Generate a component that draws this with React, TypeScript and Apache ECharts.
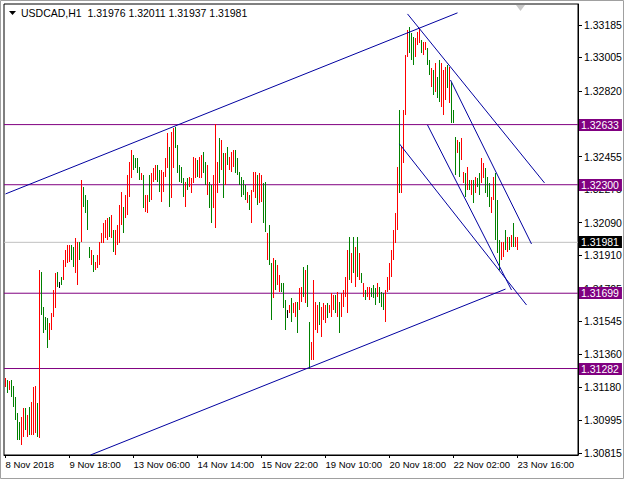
import React, { useEffect, useRef } from "react";
import * as echarts from "echarts";

const FONT = '"Liberation Sans", Arial, sans-serif';

const symbolName = "USDCAD,H1";
const lastOHLC = [1.31976, 1.32011, 1.31937, 1.31981];

// hourly bars, index 0 = first bar on the chart
const highs = [
  1.31229, 1.31218, 1.31213, 1.31218, 1.31185, 1.31124, 1.31036, 1.30986, 1.31013, 1.31063,
  1.31063, 1.31024, 1.31069, 1.31096, 1.3118, 1.31185, 1.31091, 1.31828, 1.31817, 1.31623,
  1.31567, 1.31562, 1.31534, 1.3159, 1.31717, 1.31811, 1.31817, 1.31761, 1.31789, 1.31883,
  1.31939, 1.31966, 1.31966, 1.31966, 1.31955, 1.32005, 1.31983, 1.31983, 1.32326, 1.32288,
  1.32243, 1.32216, 1.31955, 1.31939, 1.31911, 1.31872, 1.31911, 1.31983, 1.32033, 1.32088,
  1.32105, 1.32116, 1.32121, 1.32132, 1.32049, 1.32049, 1.32077, 1.32188, 1.3226, 1.32177,
  1.32243, 1.32354, 1.32426, 1.32493, 1.32465, 1.32448, 1.32448, 1.32398, 1.32365, 1.32354,
  1.32243, 1.32243, 1.32354, 1.32365, 1.32393, 1.32409, 1.32409, 1.32382, 1.32382, 1.32371,
  1.32448, 1.32587, 1.32509, 1.32592, 1.32614, 1.3262, 1.3252, 1.32409, 1.32398, 1.32337,
  1.32315, 1.32337, 1.32343, 1.32337, 1.32454, 1.32448, 1.32437, 1.32454, 1.32465, 1.32481,
  1.32426, 1.32409, 1.32315, 1.32299, 1.32354, 1.32634, 1.32426, 1.32559, 1.32548, 1.32476,
  1.32476, 1.32509, 1.32454, 1.32481, 1.32493, 1.32493, 1.32448, 1.32371, 1.32343, 1.32326,
  1.32299, 1.3226, 1.32243, 1.32271, 1.32371, 1.32371, 1.32354, 1.32365, 1.32354, 1.3231,
  1.32315, 1.32033, 1.32077, 1.31867, 1.31894, 1.31883, 1.31855, 1.318, 1.31756, 1.31756,
  1.31662, 1.31606, 1.31634, 1.31673, 1.31645, 1.3165, 1.3165, 1.31728, 1.31734, 1.31844,
  1.31828, 1.31855, 1.3154, 1.31429, 1.31772, 1.3165, 1.31634, 1.3165, 1.31623, 1.31645,
  1.31634, 1.31645, 1.31634, 1.317, 1.31689, 1.31689, 1.31706, 1.3165, 1.317, 1.31717,
  1.31789, 1.31939, 1.32011, 1.31922, 1.32011, 1.31955, 1.32011, 1.31922, 1.31811, 1.31756,
  1.31717, 1.31734, 1.31734, 1.31728, 1.31745, 1.31728, 1.31756, 1.31734, 1.31706, 1.317,
  1.31717, 1.31789, 1.31867, 1.31939, 1.32049, 1.32144, 1.32398, 1.32714, 1.32509, 1.32714,
  1.33019, 1.33157, 1.33174, 1.33141, 1.33119, 1.33113, 1.33146, 1.33168, 1.33102, 1.33091,
  1.33091, 1.33058, 1.32991, 1.32947, 1.32936, 1.32975, 1.32897, 1.32991, 1.32975, 1.32936,
  1.32952, 1.32963, 1.32952, 1.32869, 1.32714, 1.32565, 1.32548, 1.32537, 1.32559, 1.32371,
  1.32365, 1.32398, 1.32326, 1.32326, 1.32326, 1.32343, 1.32337, 1.32365, 1.32448, 1.32421,
  1.32393, 1.32343, 1.3231, 1.32232, 1.32343, 1.32365, 1.32216, 1.31994, 1.31983, 1.31983,
  1.32049, 1.32011, 1.32011, 1.32022, 1.32088, 1.32011, 1.32011,
];

const lows = [
  1.3118, 1.31146, 1.31163, 1.31124, 1.31069, 1.30997, 1.30886, 1.30886, 1.30858, 1.30903,
  1.30941, 1.30903, 1.30914, 1.30914, 1.30914, 1.30925, 1.30903, 1.30897, 1.31578, 1.31479,
  1.31495, 1.31396, 1.3144, 1.31495, 1.31567, 1.31617, 1.31734, 1.31728, 1.31745, 1.31772,
  1.31844, 1.31867, 1.31872, 1.31883, 1.31844, 1.31811, 1.31745, 1.31883, 1.31983, 1.32177,
  1.32144, 1.32049, 1.31894, 1.31855, 1.31817, 1.31828, 1.31839, 1.31855, 1.31977, 1.31977,
  1.32005, 1.31994, 1.32011, 1.32005, 1.31927, 1.31911, 1.31966, 1.31977, 1.32077, 1.32033,
  1.32116, 1.32132, 1.32232, 1.32337, 1.32382, 1.32393, 1.32365, 1.32326, 1.32326, 1.32171,
  1.32149, 1.32144, 1.32204, 1.32216, 1.32315, 1.32326, 1.32315, 1.3226, 1.32204, 1.3226,
  1.32343, 1.32393, 1.32177, 1.32227, 1.32393, 1.32504, 1.32365, 1.32315, 1.3231, 1.32232,
  1.32177, 1.32271, 1.32288, 1.32254, 1.3231, 1.32337, 1.32343, 1.32337, 1.32337, 1.32365,
  1.32299, 1.32243, 1.32171, 1.32088, 1.32171, 1.3206, 1.32254, 1.3231, 1.32382, 1.32227,
  1.32299, 1.32409, 1.32382, 1.32371, 1.32398, 1.32365, 1.32354, 1.32299, 1.32232, 1.32243,
  1.32216, 1.32199, 1.3216, 1.32088, 1.3226, 1.32227, 1.32188, 1.32199, 1.32204, 1.32088,
  1.32038, 1.31883, 1.31855, 1.31551, 1.31673, 1.31717, 1.31745, 1.31706, 1.31706, 1.31617,
  1.31495, 1.31562, 1.3159, 1.3154, 1.3159, 1.31567, 1.31479, 1.31606, 1.3165, 1.31678,
  1.31645, 1.31623, 1.31282, 1.31329, 1.31329, 1.31495, 1.31479, 1.31523, 1.31457, 1.31551,
  1.31534, 1.31562, 1.3159, 1.31567, 1.31606, 1.3159, 1.31567, 1.31479, 1.31567, 1.31623,
  1.31678, 1.3159, 1.31772, 1.31756, 1.31811, 1.31734, 1.31789, 1.31772, 1.31756, 1.31678,
  1.31662, 1.31678, 1.31662, 1.31678, 1.31673, 1.31634, 1.31678, 1.31645, 1.31623, 1.31606,
  1.3154, 1.31706, 1.31717, 1.31789, 1.31883, 1.31977, 1.32049, 1.32254, 1.32254, 1.32421,
  1.32686, 1.33008, 1.3303, 1.32991, 1.32963, 1.33008, 1.33074, 1.33085, 1.3303, 1.33019,
  1.33047, 1.32963, 1.32908, 1.32842, 1.32797, 1.32814, 1.32781, 1.32758, 1.32731, 1.32686,
  1.3277, 1.32836, 1.32753, 1.32642, 1.32642, 1.32354, 1.32476, 1.32343, 1.32437, 1.3231,
  1.32232, 1.32271, 1.32271, 1.32243, 1.32199, 1.32254, 1.32288, 1.32243, 1.3231, 1.32337,
  1.32254, 1.32232, 1.32177, 1.32144, 1.32216, 1.31994, 1.31922, 1.31828, 1.31883, 1.319,
  1.31939, 1.31927, 1.31939, 1.31955, 1.31955, 1.31955, 1.31937,
];

// R = bullish bar, G = bearish bar, K = unchanged
const directions =
  "RGRGGGGGRR" + "GRGRRRGRGG" + "GGRRRRGKGR" + "RRRGGRRGRG" + "GGGRGRRRRR" +
  "RRGRGRRRRG" + "RRRRGGGGRG" + "RRGRRRGGRR" + "RRGRRGGGGG" + "RGRRRRGRRG" +
  "GRGGRRRGRG" + "RGRRRGGGGG" + "GRGRRRGRRG" + "GRGGRGRRGG" + "GKRGRRGRRG" +
  "RGGRRRRGRR" + "RGRRRGRGRR" + "RRGRGRGRGR" + "GRRGGGRGGG" + "RRRRRRRGRR" +
  "RRGGGRRRGR" + "RGGRGRGGRR" + "RGRGGGRGRR" + "GRGRGRGGRR" + "GGGRRGGGRR" +
  "GRGRGRR";

const timeTickIndex = [0, 32, 64, 96, 128, 160, 192, 224, 256];
const timeLabels = [
  "8 Nov 2018", "9 Nov 18:00", "13 Nov 06:00", "14 Nov 14:00", "15 Nov 22:00",
  "19 Nov 10:00", "20 Nov 18:00", "22 Nov 02:00", "23 Nov 16:00",
];
const priceTicks = [
  1.33185, 1.33005, 1.3282, 1.3264, 1.32455, 1.32275, 1.3209, 1.3191, 1.31725,
  1.31545, 1.3136, 1.3118, 1.30995, 1.30815,
];
// tick 1.32640 lies fully under the 1.32633 box, so no label is printed for it
const priceLabels = [
  1.33185, 1.33005, 1.3282, 1.32455, 1.32275, 1.3209, 1.3191, 1.31725,
  1.31545, 1.3136, 1.3118, 1.30995, 1.30815,
];
const levels = [1.32633, 1.323, 1.31699, 1.31282];
const bidPrice = 1.31981;
const priceMin = 1.30803;
const priceMax = 1.33301;
const barIndexMin = -0.75;
const barIndexMax = 286.25;

// trend lines: [startIndex, startPrice], [endIndex, endPrice]
const trendLines = [
  [[0, 1.32249], [226, 1.33252]],
  [[42.5, 1.30803], [250, 1.31722]],
  [[201, 1.33246], [269.5, 1.3231]],
  [[222.5, 1.3288], [263, 1.31972]],
  [[211, 1.32631], [253, 1.31717]],
  [[197, 1.32526], [260.5, 1.31634]],
];

const UP = "#FF0000";
const DOWN = "#008000";
const FLAT = "#000000";
const PURPLE = "#800080";
const BID = "#C0C0C0";
const TREND = "#0000A0";

export default function App() {
  const ref = useRef<HTMLDivElement>(null);
  useEffect(() => {
    document.body.style.margin = "0";
    if (!ref.current) return;
    const chart = echarts.init(ref.current, null, { renderer: "svg" });

    // one custom series per bar colour; each bar is a 1px high-low line
    const groupData = (code: string) =>
      highs.map((h, i) => [i, h, lows[i]]).filter((_, i) => directions[i] === code);

    const barSeries = (code: string, color: string) => ({
      type: "custom",
      name: "bars-" + code,
      clip: true,
      silent: true,
      z: 3,
      data: groupData(code),
      encode: { x: 0, y: [1, 2] },
      itemStyle: { color },
      renderItem: (params: any, api: any) => {
        const i = api.value(0);
        const top = api.coord([i, api.value(1)]);
        const bot = api.coord([i, api.value(2)]);
        const x = Math.round(top[0] - 0.5);
        const y1 = Math.round(top[1]);
        let y2 = Math.round(bot[1]);
        if (y2 - y1 < 2) y2 = y1 + 2;
        return {
          type: "rect",
          shape: { x, y: y1, width: 1, height: y2 - y1 },
          style: { fill: color, stroke: null },
        };
      },
    });

    const hLine = (v: number, color: string) => ({
      type: "line",
      data: [[barIndexMin, v], [barIndexMax, v]],
      showSymbol: false,
      symbol: "none",
      silent: true,
      clip: true,
      lineStyle: { color, width: 1, type: "solid" },
      z: 2,
    });

    const series: any[] = [
      hLine(bidPrice, BID),
      barSeries("R", UP),
      barSeries("G", DOWN),
      barSeries("K", FLAT),
      ...levels.map((v) => hLine(v, PURPLE)),
      ...trendLines.map((ln) => ({
        type: "line",
        data: ln,
        showSymbol: false,
        symbol: "none",
        silent: true,
        clip: true,
        lineStyle: { color: TREND, width: 1 },
        z: 5,
      })),
    ];

    const baseGraphic: any[] = [
      {
        type: "rect",
        shape: { x: 0.5, y: 0.5, width: 623, height: 478 },
        style: { fill: "none", stroke: "#A0A0A0", lineWidth: 1 },
        silent: true,
        z: 10,
      },
      {
        type: "polygon",
        shape: { points: [[9, 11], [16, 11], [12.5, 15]] },
        style: { fill: "#000000" },
        silent: true,
        z: 10,
      },
      {
        type: "text",
        x: 21,
        y: 7,
        style: {
          text: `${symbolName}  ${lastOHLC.map((v) => v.toFixed(5)).join(" ")}`,
          fill: "#000000",
          font: `10.5px ${FONT}`,
        },
        silent: true,
        z: 10,
      },
      {
        type: "polygon",
        shape: { points: [[516, 5], [525, 5], [520.5, 11]] },
        style: { fill: "#C8C8C8" },
        silent: true,
        z: 10,
      },
    ];

    chart.setOption({
      animation: false,
      backgroundColor: "#ffffff",
      textStyle: { fontFamily: FONT },
      grid: {
        left: 4, right: 46, top: 4, bottom: 24,
        show: true, borderColor: "#000000", borderWidth: 1,
        backgroundColor: "transparent", containLabel: false, outerBoundsMode: "none",
      },
      xAxis: {
        type: "value",
        min: barIndexMin,
        max: barIndexMax,
        axisLine: { show: true, onZero: false, lineStyle: { color: "#000000", width: 1 } },
        splitLine: { show: false },
        axisTick: { show: true, customValues: timeTickIndex, length: 3, lineStyle: { color: "#000000" } },
        axisLabel: {
          customValues: timeTickIndex,
          formatter: (v: number) => timeLabels[timeTickIndex.indexOf(Math.round(v))] ?? "",
          align: "left", color: "#000000", fontSize: 9.5, fontFamily: FONT, margin: 4, hideOverlap: false,
        },
      },
      yAxis: {
        type: "value",
        position: "right",
        min: priceMin,
        max: priceMax,
        axisLine: { show: true, onZero: false, lineStyle: { color: "#000000", width: 1 } },
        splitLine: { show: false },
        axisTick: { show: true, customValues: priceTicks, length: 4, lineStyle: { color: "#000000" } },
        axisLabel: {
          customValues: priceLabels,
          formatter: (v: number) => v.toFixed(5),
          color: "#000000", fontSize: 10.5, fontFamily: FONT, margin: 6, hideOverlap: false,
        },
      },
      graphic: baseGraphic,
      series,
    });

    // price boxes at the right edge, placed through the chart's own axes
    const xr = chart.convertToPixel({ xAxisIndex: 0 }, barIndexMax) as number;
    const box = (v: number, bg: string) => {
      const y = chart.convertToPixel({ yAxisIndex: 0 }, v) as number;
      return {
        type: "text",
        x: Math.round(xr) + 1,
        y: Math.round(y),
        silent: true,
        z: 20,
        style: {
          text: v.toFixed(5), fill: "#ffffff", font: `10.5px ${FONT}`,
          backgroundColor: bg, padding: [1, 3, 0, 2], verticalAlign: "middle", align: "left", lineHeight: 11,
        },
      };
    };
    chart.setOption({
      graphic: [...baseGraphic, box(bidPrice, "#000000"), ...levels.map((v) => box(v, PURPLE))],
    });
    return () => chart.dispose();
  }, []);
  return <div ref={ref} style={{ width: 624, height: 479 }} />;
}
